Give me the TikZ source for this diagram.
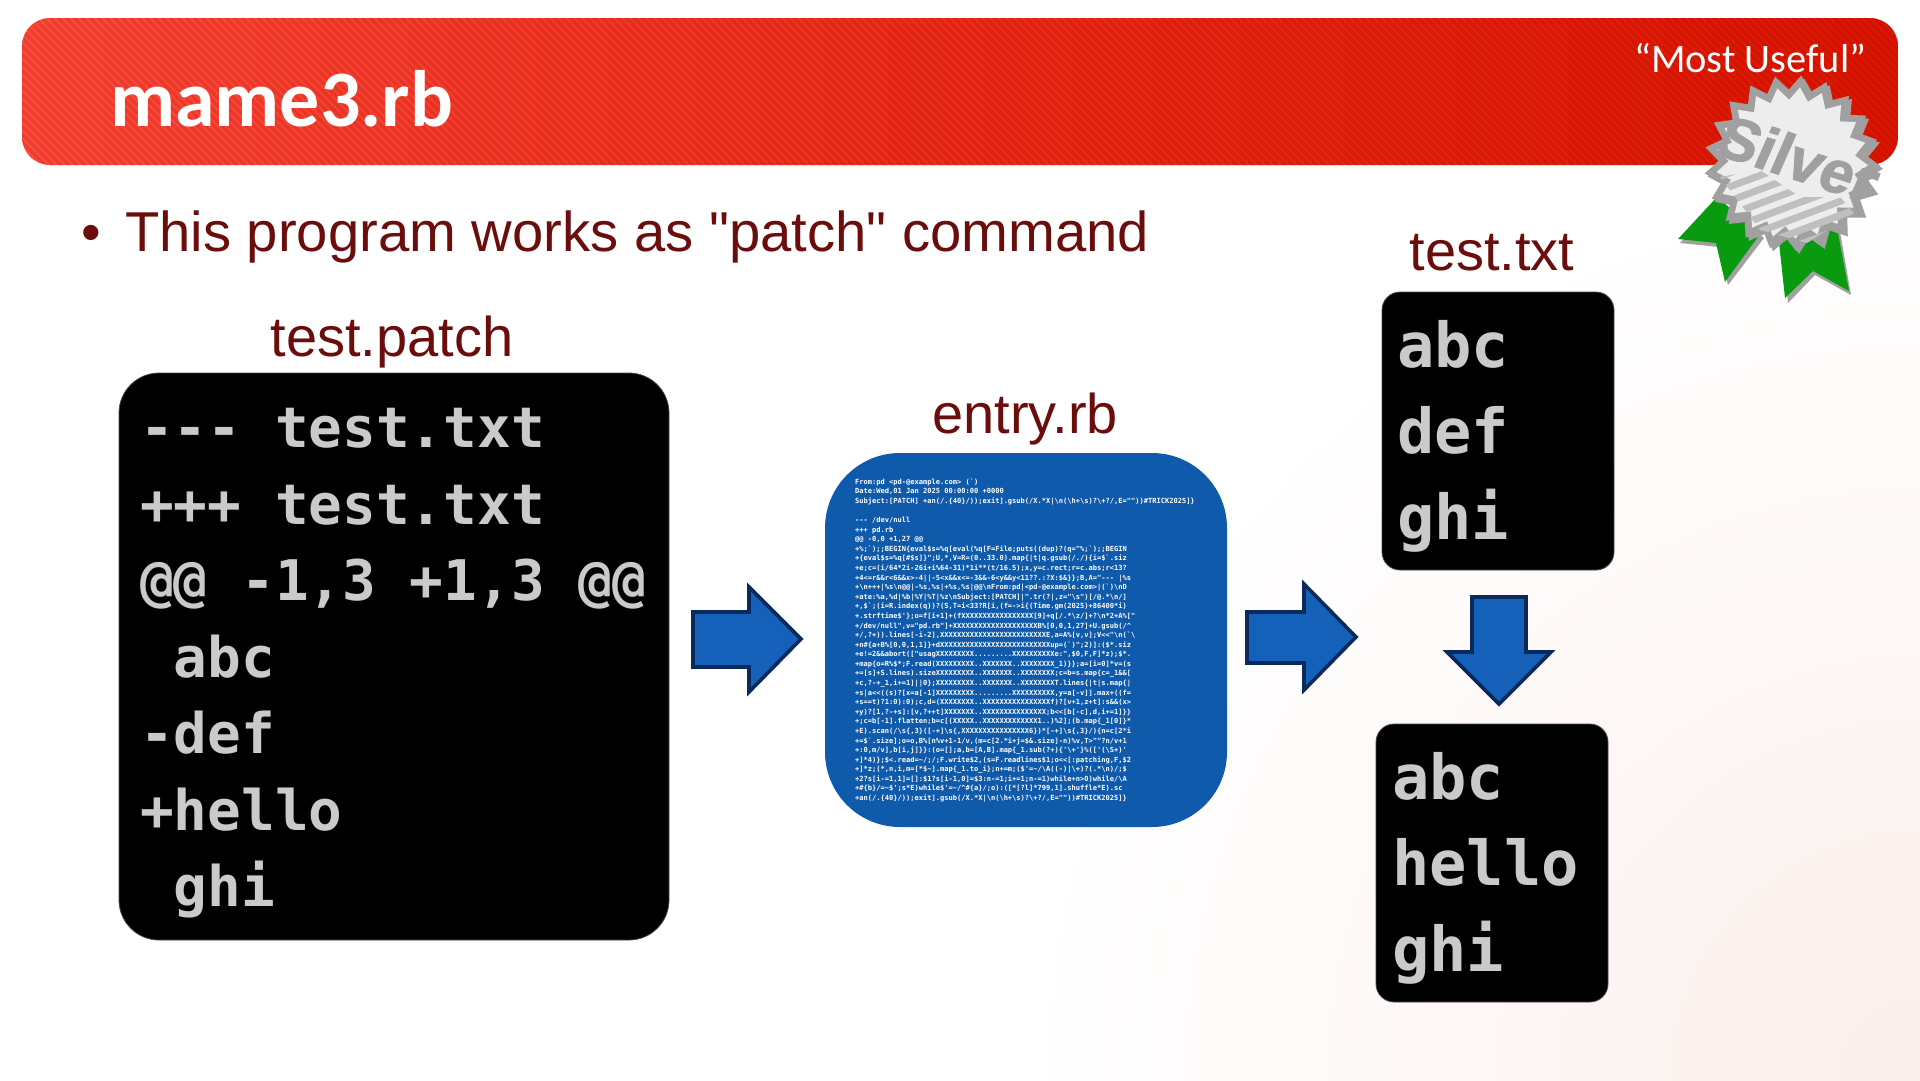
\documentclass[tikz,border=0pt]{standalone}
\usepackage{fontspec}
\usetikzlibrary{shapes.geometric}
\setmainfont{Liberation Sans}
\newfontfamily\plainsans{Liberation Sans}
\newfontfamily\carlito{Carlito}
\newfontfamily\codefont{DejaVu Sans Mono}
\newfontfamily\silverfont[BoldFeatures={FakeBold=1.6,FakeSlant=0.1}]{Liberation Sans}
\newcommand{\bs}{\textbackslash}
\newcommand{\tld}{\textasciitilde}
\newcommand{\crt}{\textasciicircum}
\definecolor{labelred}{HTML}{6B0D0D}
\definecolor{boxblue}{HTML}{0F5AAB}
\definecolor{arrowblue}{HTML}{1560B8}
\definecolor{arrownavy}{HTML}{0A2A5C}
\definecolor{codegray}{HTML}{CACACA}
\definecolor{medalgray}{HTML}{A0A0A0}
\definecolor{ribbongreen}{HTML}{0A9A10}
\definecolor{bannerl}{HTML}{FF4A3A}
\definecolor{bannerm}{HTML}{EE2C18}
\definecolor{bannerr}{HTML}{DE1600}
\definecolor{pagepink}{HTML}{FBEFEC}
\tikzset{
  x=1pt,y=-1pt,
  blackbox/.style={fill=black,draw=black!70,line width=0.8pt},
  codetext/.style={text=codegray,anchor=north west,inner sep=0pt,align=left},
  toplabel/.style={text=labelred,font=\fontsize{56}{60}\selectfont,inner sep=0pt,anchor=base},
  blockarrow/.style={fill=arrowblue,draw=arrownavy,line width=3.6pt,miter limit=10},
}
\begin{document}
\begin{tikzpicture}
\useasboundingbox (0,0) rectangle (1920,1080);
% page background
\begin{scope}
\clip (0,0) rectangle (1920,1080);
\fill[white] (0,0) rectangle (1920,1080);
\shade[inner color=pagepink,outer color=white] (1920,1080) circle (900);
\end{scope}
% banner
\begin{scope}
\clip[rounded corners=28pt] (22,18) rectangle (1898,165);
\shade[left color=bannerl,right color=bannerr,middle color=bannerm] (22,18) rectangle (1898,165);
\foreach \s in {0,8,...,2070}{
  \draw[line width=3pt,black!50!red,opacity=0.16] (\s-150,10) -- (\s+10,170);
}
\end{scope}
\node (title) [anchor=base west,inner sep=0pt,text=white,font=\carlito\bfseries\fontsize{80}{84}\selectfont] at (110,126) {mame3.rb};
\node (useful) [anchor=base west,inner sep=0pt,text=white,font=\carlito\fontsize{40.4}{42}\selectfont] at (1634,72) {“Most Useful”};
% ribbons
\draw[fill=medalgray,draw=none] (1680,243) -- (1720,200) -- (1764,238) -- (1728,285) -- (1719,247) -- cycle;
\draw[fill=ribbongreen,draw=none] (1678,239) -- (1717,197) -- (1760,234) -- (1725,282) -- (1716,243) -- cycle;
\draw[fill=medalgray,draw=none] (1782,236) -- (1838,220) -- (1851,295) -- (1815,275) -- (1788,303) -- cycle;
\draw[fill=ribbongreen,draw=none] (1778,233) -- (1835,217) -- (1849,291) -- (1813,271) -- (1785,298) -- cycle;
% medal
\node (medalshadow) [star,star points=21,star point ratio=1.2,minimum size=176pt,inner sep=0pt,fill=medalgray,rotate=-6] at (1795,166) {};
\node (medal) [star,star points=21,star point ratio=1.2,minimum size=176pt,inner sep=0pt,fill=medalgray,rotate=-6] at (1792,163) {};
\node (medalface) [star,star points=21,star point ratio=1.2,minimum size=152pt,inner sep=0pt,fill=black!7,rotate=-6] at (1792,163) {};
\begin{scope}
\clip (1720,177) -- (1760,170) -- (1800,197) -- (1840,197) -- (1854,213) -- (1807,243) -- (1760,230) -- cycle;
\foreach \k in {0,14,...,112}{
  \draw[line width=7pt,black!25] (1700,170+\k) -- (1870,106+\k);
}
\end{scope}
\node (silver) [rotate=-18,text=medalgray,inner sep=0pt,font=\silverfont\bfseries\fontsize{60}{60}\selectfont] at (1797,158) {Silver};
% bullet line
\node (bullet) [anchor=base west,inner sep=0pt,text=labelred,font=\plainsans\fontsize{56}{60}\selectfont] at (81,251) {•};
\node (headline) [anchor=base west,inner sep=0pt,text=labelred,font=\plainsans\fontsize{56.2}{60}\selectfont] at (125,251) {This program works as "patch" command};
% labels
\node (lblpatch) [toplabel] at (392,356) {test.patch};
\node (lblentry) [toplabel] at (1025,433) {entry.rb};
\node (lbltxt) [toplabel] at (1492,270) {test.txt};
% boxes
\draw[blackbox,rounded corners=40pt] (119,373) rectangle (669,940);
\node (patchcode) [codetext,font=\codefont\bfseries\fontsize{56}{76.5}\selectfont] at (140,408) {%
--- test.txt\\
+++ test.txt\\
@@ -1,3 +1,3 @@\\
\phantom{x}abc\\
-def\\
+hello\\
\phantom{x}ghi};
\draw[blackbox,rounded corners=18pt] (1382,292) rectangle (1614,570);
\node (txtcode) [codetext,font=\codefont\bfseries\fontsize{62}{86}\selectfont] at (1397,320) {abc\\def\\ghi};
\draw[blackbox,rounded corners=18pt] (1376,724) rectangle (1608,1002);
\node (resultcode) [codetext,font=\codefont\bfseries\fontsize{62}{86}\selectfont] at (1392,752) {abc\\hello\\ghi};
\fill[boxblue,rounded corners=75pt] (825,453) rectangle (1227,827);
\node (entrycode) [codetext,text=white,font=\codefont\bfseries\fontsize{7.05}{9.58}\selectfont] at (855,478.5) {%
From:pd <pd-@example.com> (`)\\
Date:Wed,01 Jan 2025 00:00:00 +0000\\
Subject:[PATCH] +an(/.\{40\}/));exit].gsub(/X.*X|\bs{}n(\bs{}h+\bs{}s)?\bs{}+?/,E=""))\#TRICK2025]\}\\
\mbox{}\\
--- /dev/null\\
+++ pd.rb\\
@@ -0,0 +1,27 @@\\
+\%;`);;BEGIN\{eval\$s=\%q[eval(\%q[F=File;puts((dup)?(q="\%;`);;BEGIN\\
+\{eval\$s=\%q[\#\$s]\}";U,*,V=R=(0..33.0).map\{|t|q.gsub(/./)\{i=\$`.siz\\
+e;c=(i/64*2i-26i+i\%64-31)*1i**(t/16.5);x,y=c.rect;r=c.abs;r<13?\\
+4<=r\&\&r<6\&\&x>-4||-5<x\&\&x<=-3\&\&-6<y\&\&y<11??.:?X:\$\&\}\};B,A="--- |\%s\\
+\bs{}n+++|\%s\bs{}n@@|-\%s,\%s|+\%s,\%s|@@\bs{}nFrom:pd|<pd-@example.com>|(`)\bs{}nD\\
+ate:\%a,\%d|\%b|\%Y|\%T|\%z\bs{}nSubject:[PATCH]|".tr(?|,z="\bs{}s")[/@.*\bs{}n/]\\
+,\$`;(i=R.index(q))?(S,T=i<33?R[i,(f=->i\{(Time.gm(2025)+86400*i)\\
+.strftime\$'\};o=f[i+1]+(fXXXXXXXXXXXXXXXXX[9]+q[/.*\bs{}z/]+?\bs{}n*2+A\%["\\
+/dev/null",v="pd.rb"]+XXXXXXXXXXXXXXXXXXXXB\%[0,0,1,27]+U.gsub(/\crt{}\\
+/,?+)).lines[-i-2],XXXXXXXXXXXXXXXXXXXXXXXXXE,a=A\%[v,v];V<<"\bs{}n(`\bs{}\\
+n\#\{a+B\%[0,0,1,1]\}+dXXXXXXXXXXXXXXXXXXXXXXXXXXup=(`)";2)]:(\$*.siz\\
+e!=2\&\&abort(["usagXXXXXXXXX.........XXXXXXXXXXe:",\$0,F,F]*z);\$*.\\
+map\{o=R\%\$*;F.read(XXXXXXXXX..XXXXXXX..XXXXXXXX\_1)\}\};a=[i=0]*v=(s\\
+=[s]+S.lines).sizeXXXXXXXXX..XXXXXXX..XXXXXXXX;c=b=s.map\{c=\_1\&\&[\\
+c,?-+\_1,i+=1]||0\};XXXXXXXXX..XXXXXXX..XXXXXXXXT.lines\{|t|s.map\{|\\
+s|a<<((s)?[x=a[-1]XXXXXXXXX.........XXXXXXXXXX,y=a[-v]].max+((f=\\
+s==t)?1:0):0);c,d=(XXXXXXXX..XXXXXXXXXXXXXXXXf)?[v+1,z+t]:s\&\&(x>\\
+y)?[1,?-+s]:[v,?++t]XXXXXXX..XXXXXXXXXXXXXXX;b<<[b[-c],d,i+=1]\}\}\\
+;c=b[-1].flatten;b=c[(XXXXX..XXXXXXXXXXXXX1..)\%2];(b.map\{\_1[0]\}*\\
+E).scan(/\bs{}s\{,3\}([-+]\bs{}s\{,XXXXXXXXXXXXXXXX6\})*[-+]\bs{}s\{,3\}/)\{n=c[2*i\\
+=\$`.size];o=o,B\%[n\%v+1-1/v,(m=c[2.*i+j=\$\&.size]-n)\%v,T>""?n/v+1\\
+:0,m/v],b[i,j]\}\}:(o=[];a,b=[A,B].map\{\_1.sub(?+)\{'\bs{}+'\}\%(['(\bs{}S+)'\\
+]*4)\};\$<.read=\tld{}/;/;F.write\$2,(s=F.readlines\$1;o<<[:patching,F,\$2\\
+]*z;(*,n,i,m=[*\$\tld{}].map\{\_1.to\_i\};n+=m;(\$'=\tld{}/\bs{}A((-)|\bs{}+)?(.*\bs{}n)/;\$\\
+2?s[i-=1,1]=[]:\$1?s[i-1,0]=\$3:n-=1;i+=1;n-=1)while+n>0)while/\bs{}A\\
+\#\{b\}/=\tld{}\$';s*E)while\$'=\tld{}/\crt{}\#\{a\}/;o):([*[?l]*799,1].shuffle*E).sc\\
+an(/.\{40\}/));exit].gsub(/X.*X|\bs{}n(\bs{}h+\bs{}s)?\bs{}+?/,E=""))\#TRICK2025]\}};
% block arrows
\draw[blockarrow] (693,612) -- (749,612) -- (749,587) -- (801,639) -- (749,692) -- (749,667) -- (693,667) -- cycle;
\draw[blockarrow] (1247,612) -- (1304,612) -- (1304,584) -- (1356,637) -- (1304,690) -- (1304,663) -- (1247,663) -- cycle;
\draw[blockarrow] (1472,597) -- (1526,597) -- (1526,652) -- (1551,652) -- (1499,704) -- (1447,652) -- (1472,652) -- cycle;
\end{tikzpicture}
\end{document}
